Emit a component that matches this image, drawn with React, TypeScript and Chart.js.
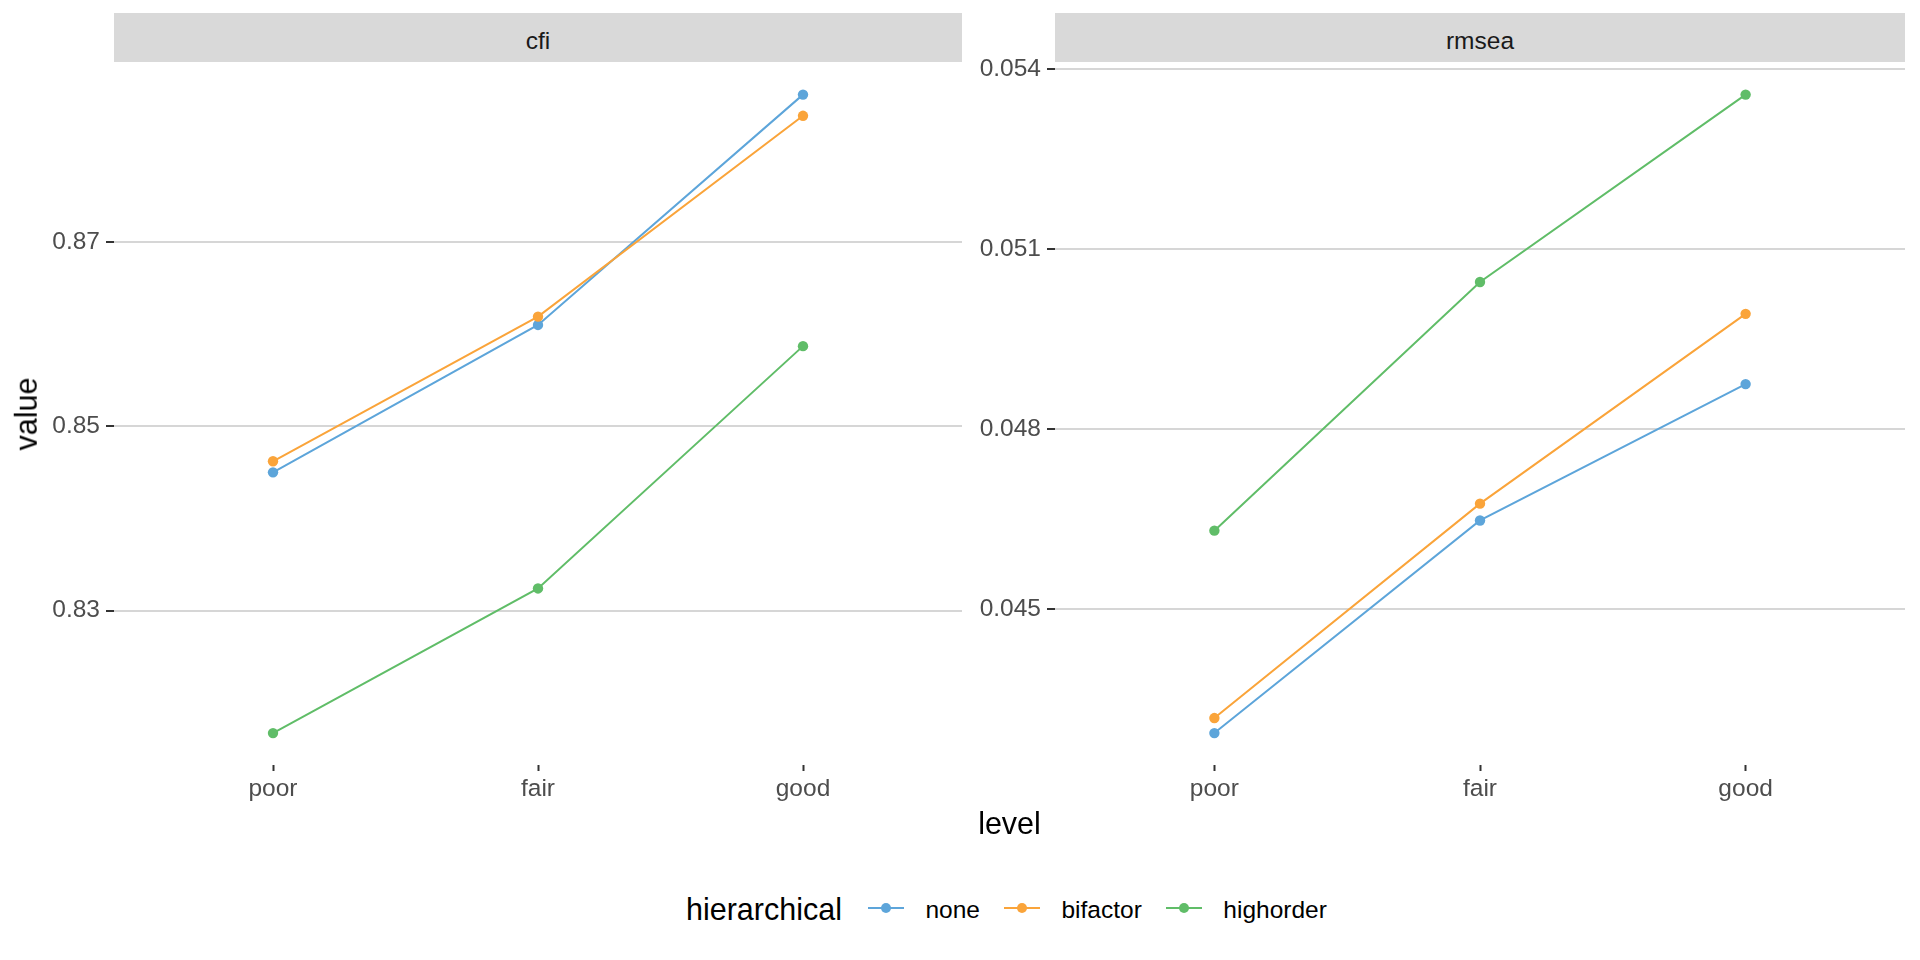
import React, { useEffect, useRef } from "react";
import { Chart, registerables } from "chart.js";

Chart.register(...registerables);

// ---- data ----
const levels = ["poor", "fair", "good"];
const seriesNames = ["none", "bifactor", "highorder"];
const seriesColors = ["#5DA5DA", "#FAA43A", "#60BD68"];

const cfiNone = [0.845, 0.861, 0.886];
const cfiBifactor = [0.8462, 0.8619, 0.8837];
const cfiHighorder = [0.8167, 0.8324, 0.8587];

const rmseaNone = [0.04294, 0.04648, 0.04875];
const rmseaBifactor = [0.04319, 0.04676, 0.04992];
const rmseaHighorder = [0.04631, 0.05045, 0.05357];

const cfiTicks = [0.83, 0.85, 0.87];
const cfiTickLabels = ["0.83", "0.85", "0.87"];
const rmseaTicks = [0.045, 0.048, 0.051, 0.054];
const rmseaTickLabels = ["0.045", "0.048", "0.051", "0.054"];

const panelTitles = ["cfi", "rmsea"];

const FONT = "'Liberation Sans', Arial, Helvetica, sans-serif";

type PanelProps = {
  canvasLeft: number;
  canvasWidth: number;
  yAxisWidth: number;
  series: number[][];
  ticks: number[];
  tickLabels: string[];
};

const CANVAS_TOP = 42;
const PAD_TOP = 20;
const PAD_RIGHT = 20;
const PANEL_BOTTOM = 765;
const X_AXIS_H = 45;
const CANVAS_H = PANEL_BOTTOM - CANVAS_TOP + X_AXIS_H;

function Panel({ canvasLeft, canvasWidth, yAxisWidth, series, ticks, tickLabels }: PanelProps) {
  const ref = useRef<HTMLCanvasElement>(null);
  useEffect(() => {
    const all = series.flat();
    const lo = Math.min(...all);
    const hi = Math.max(...all);
    const pad = (hi - lo) * 0.05;
    const tickFont = { family: FONT, size: 24.5 };
    const chart = new Chart(ref.current as HTMLCanvasElement, {
      type: "line",
      data: {
        datasets: series.map((vals, i) => ({
          label: seriesNames[i],
          data: vals.map((v, j) => ({ x: j, y: v })),
          borderColor: seriesColors[i],
          backgroundColor: seriesColors[i],
          borderWidth: 2,
          pointRadius: 5.2,
          pointHoverRadius: 5.2,
          pointBorderWidth: 0,
          tension: 0,
          fill: false,
          order: series.length - 1 - i,
        })),
      },
      options: {
        responsive: false,
        animation: false,
        devicePixelRatio: 1,
        events: [],
        layout: { padding: { top: PAD_TOP, right: PAD_RIGHT, bottom: 0, left: 0 } },
        plugins: { legend: { display: false }, tooltip: { enabled: false } },
        scales: {
          x: {
            type: "linear",
            min: -0.6,
            max: 2.6,
            afterBuildTicks: (s: any) => {
              s.ticks = levels.map((_, j) => ({ value: j }));
            },
            afterFit: (s: any) => {
              s.height = X_AXIS_H;
            },
            ticks: {
              callback: (_v: any, idx: number) => levels[idx],
              font: tickFont,
              color: "#4D4D4D",
              padding: 4,
              maxRotation: 0,
              autoSkip: false,
            },
            grid: {
              display: true,
              drawOnChartArea: false,
              drawTicks: true,
              tickLength: 6,
              tickColor: "#333333",
              tickWidth: 2,
            },
            border: { display: false },
          },
          y: {
            type: "linear",
            min: lo - pad,
            max: hi + pad,
            afterBuildTicks: (s: any) => {
              s.ticks = ticks.map((v) => ({ value: v }));
            },
            afterFit: (s: any) => {
              s.width = yAxisWidth;
            },
            ticks: {
              callback: (_v: any, idx: number) => tickLabels[idx],
              font: tickFont,
              color: "#4D4D4D",
              padding: 6,
              autoSkip: false,
            },
            grid: {
              color: "#D6D6D6",
              lineWidth: 2,
              drawTicks: true,
              tickLength: 8,
              tickColor: "#333333",
              tickWidth: 2,
            },
            border: { display: false },
          },
        },
      } as any,
    });
    return () => chart.destroy();
  }, []);
  return (
    <canvas
      ref={ref}
      width={canvasWidth}
      height={CANVAS_H}
      style={{ position: "absolute", left: canvasLeft, top: CANVAS_TOP, width: canvasWidth, height: CANVAS_H }}
    />
  );
}

const strips = [
  { left: 114, right: 962 },
  { left: 1055, right: 1905 },
];

export default function App() {
  return (
    <div
      style={{
        position: "fixed",
        left: 0,
        top: 0,
        width: 1920,
        height: 960,
        background: "#FFFFFF",
        fontFamily: FONT,
        overflow: "hidden",
      }}
    >
      {strips.map((s, i) => (
        <div
          key={"strip" + i}
          style={{
            position: "absolute",
            left: s.left,
            top: 13,
            width: s.right - s.left,
            height: 62 - 13,
            background: "#D9D9D9",
          }}
        />
      ))}
      {strips.map((s, i) => (
        <div
          key={"stript" + i}
          style={{
            position: "absolute",
            left: s.left,
            top: 29,
            width: s.right - s.left,
            textAlign: "center",
            fontSize: 24.5,
            lineHeight: 1,
            color: "#1A1A1A",
            whiteSpace: "nowrap",
          }}
        >
          {panelTitles[i]}
        </div>
      ))}
      <Panel
        canvasLeft={0}
        canvasWidth={962 + PAD_RIGHT}
        yAxisWidth={114}
        series={[cfiNone, cfiBifactor, cfiHighorder]}
        ticks={cfiTicks}
        tickLabels={cfiTickLabels}
      />
      <Panel
        canvasLeft={960}
        canvasWidth={1905 - 960 + PAD_RIGHT}
        yAxisWidth={95}
        series={[rmseaNone, rmseaBifactor, rmseaHighorder]}
        ticks={rmseaTicks}
        tickLabels={rmseaTickLabels}
      />
      {/* axis titles */}
      <div
        style={{
          position: "absolute",
          left: 114,
          width: 1905 - 114,
          top: 807.5,
          textAlign: "center",
          fontSize: 30.5,
          lineHeight: 1,
          color: "#000000",
        }}
      >
        level
      </div>
      <div
        style={{
          position: "absolute",
          left: 26,
          top: 413.5,
          transform: "translate(-50%, -50%) rotate(-90deg)",
          fontSize: 30.5,
          lineHeight: 1,
          color: "#000000",
          whiteSpace: "nowrap",
        }}
      >
        value
      </div>
      {/* legend */}
      <div
        style={{
          position: "absolute",
          left: 686,
          top: 880,
          height: 60,
          display: "flex",
          flexDirection: "row",
          alignItems: "flex-start",
          whiteSpace: "nowrap",
        }}
      >
        <div style={{ fontSize: 30.5, lineHeight: 1, marginTop: 13.5, color: "#000" }}>hierarchical</div>
        {seriesNames.map((name, i) => (
          <React.Fragment key={name}>
            <div
              style={{
                position: "relative",
                width: 36,
                height: 10,
                marginTop: 22.7,
                marginLeft: i === 0 ? 26 : 24,
              }}
            >
              <div
                style={{
                  position: "absolute",
                  left: 0,
                  top: 4,
                  width: 36,
                  height: 2,
                  background: seriesColors[i],
                }}
              />
              <div
                style={{
                  position: "absolute",
                  left: 13,
                  top: 0,
                  width: 10,
                  height: 10,
                  borderRadius: 5,
                  background: seriesColors[i],
                }}
              />
            </div>
            <div style={{ fontSize: 24.5, lineHeight: 1, marginTop: 18, marginLeft: 21.5, color: "#000" }}>{name}</div>
          </React.Fragment>
        ))}
      </div>
    </div>
  );
}
